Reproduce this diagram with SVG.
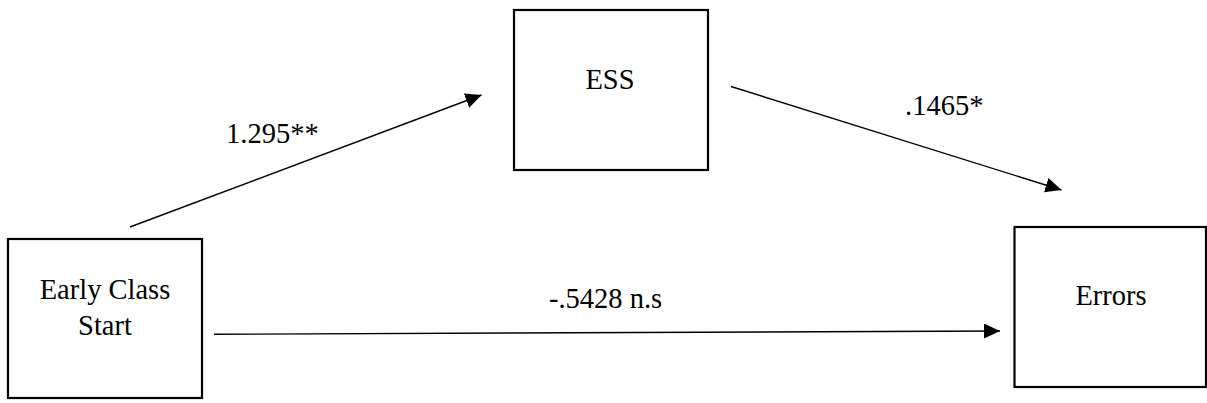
<svg xmlns="http://www.w3.org/2000/svg" width="1207" height="403" viewBox="0 0 1207 403">
<defs>
<style>
.box{fill:#fff;stroke:#000;stroke-width:2.2}
.lbl{font-family:"Liberation Serif","Times New Roman",serif;font-size:28.5px;fill:#000}
.c{text-anchor:middle}
.edge{stroke:#000;stroke-width:1.4;fill:none;marker-end:url(#ah)}
</style>
<marker id="ah" markerWidth="17" markerHeight="15" refX="16" refY="7.5" orient="auto" markerUnits="userSpaceOnUse">
<path d="M0,0 L16,7.5 L0,15 z" fill="#000"/>
</marker>
</defs>
<rect width="1207" height="403" fill="#fff"/>
<g id="connectors">
<line class="edge" x1="130" y1="227" x2="481.5" y2="95"/>
<line class="edge" x1="731" y1="86.5" x2="1061.5" y2="190"/>
<line class="edge" x1="214" y1="334.3" x2="1000" y2="331"/>
<text class="lbl" x="226" y="143">1.295**</text>
<text class="lbl" x="905" y="115">.1465*</text>
<text class="lbl" x="549" y="308">-.5428 n.s</text>
</g>
<g id="node-early">
<rect class="box" x="8" y="239" width="194" height="159"/>
<text class="lbl c" x="105" y="299">Early Class</text>
<text class="lbl c" x="105" y="335">Start</text>
</g>
<g id="node-ess">
<rect class="box" x="514" y="10" width="194" height="160"/>
<text class="lbl c" x="610" y="89">ESS</text>
</g>
<g id="node-errors">
<rect class="box" x="1014.5" y="227" width="191.5" height="160"/>
<text class="lbl c" x="1111" y="305">Errors</text>
</g>
</svg>
